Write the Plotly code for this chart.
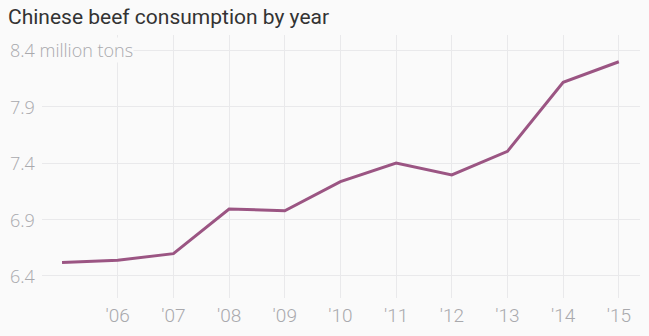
import plotly.graph_objects as go

years = [2005, 2006, 2007, 2008, 2009, 2010, 2011, 2012, 2013, 2014, 2015]
consumption = [6.518, 6.538, 6.597, 6.993, 6.978, 7.236, 7.40, 7.295, 7.504, 8.117, 8.299]
x_ticks = [2006, 2007, 2008, 2009, 2010, 2011, 2012, 2013, 2014, 2015]
x_tick_labels = ["'06", "'07", "'08", "'09", "'10", "'11", "'12", "'13", "'14", "'15"]
y_ticks = [6.4, 6.9, 7.4, 7.9, 8.4]
y_tick_labels = ["6.4", "6.9", "7.4", "7.9", "8.4 million tons"]

BG = "#fafafa"
GRID = "#e9e9eb"
LABEL = "#a9a9ad"
LINE = "#9b5583"

fig = go.Figure()
fig.add_trace(go.Scatter(
    x=years, y=consumption, mode="lines",
    line=dict(color=LINE, width=3), hoverinfo="skip", showlegend=False,
))

for v, t in zip(y_ticks, y_tick_labels):
    fig.add_annotation(
        x=0, xref="paper", y=v, yref="y", xanchor="left", yanchor="middle",
        xshift=-33, text=t, showarrow=False, bgcolor=BG, borderpad=0,
        font=dict(family="Open Sans", size=18, color=LABEL, weight=300),
    )

fig.update_layout(
    width=649, height=336,
    margin=dict(l=42, r=9, t=35, b=36),
    paper_bgcolor=BG, plot_bgcolor=BG,
    title=dict(
        text="Chinese beef consumption by year", x=0, xref="container", xanchor="left",
        y=1, yref="container", yanchor="top", pad=dict(l=8, t=9),
        font=dict(family="Roboto", size=21, color="#333333"),
    ),
    xaxis=dict(
        range=[2004.64, 2015.38], tickvals=x_ticks, ticktext=x_tick_labels,
        showgrid=True, gridcolor=GRID, gridwidth=1, zeroline=False, showline=False,
        ticks="", ticklabelstandoff=4,
        tickfont=dict(family="Roboto", size=19, color=LABEL, weight=300),
    ),
    yaxis=dict(
        range=[6.204, 8.536], tickvals=y_ticks, showticklabels=False,
        showgrid=True, gridcolor=GRID, gridwidth=1, zeroline=False, showline=False,
        ticks="",
    ),
)

fig.write_html("out.html")
